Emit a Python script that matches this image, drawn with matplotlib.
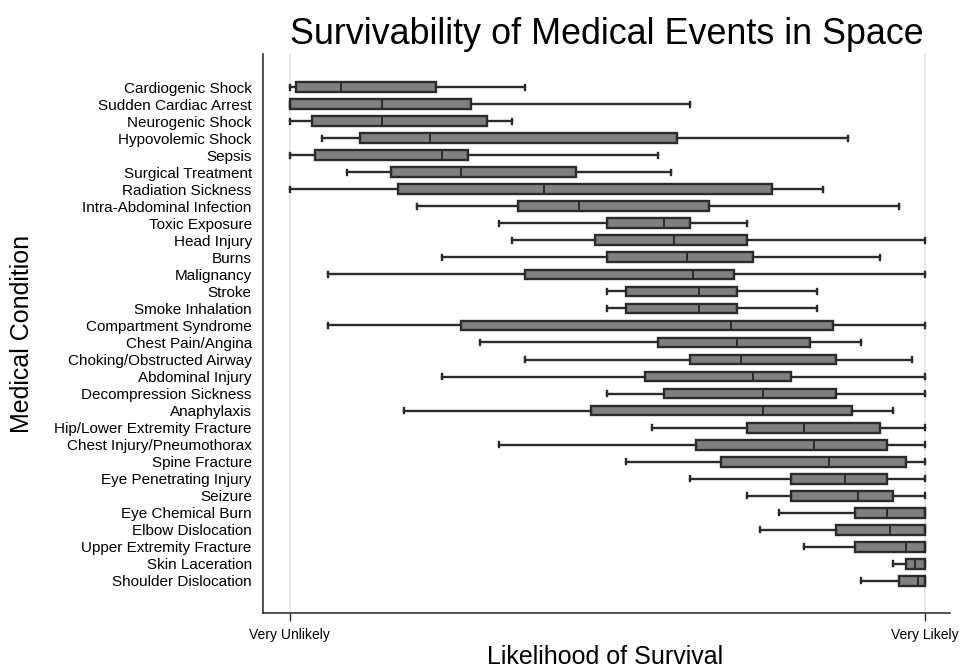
import matplotlib
matplotlib.use("Agg")
import matplotlib.pyplot as plt

conditions = [
    "Cardiogenic Shock", "Sudden Cardiac Arrest", "Neurogenic Shock", "Hypovolemic Shock",
    "Sepsis", "Surgical Treatment", "Radiation Sickness", "Intra-Abdominal Infection",
    "Toxic Exposure", "Head Injury", "Burns", "Malignancy", "Stroke", "Smoke Inhalation",
    "Compartment Syndrome", "Chest Pain/Angina", "Choking/Obstructed Airway",
    "Abdominal Injury", "Decompression Sickness", "Anaphylaxis",
    "Hip/Lower Extremity Fracture", "Chest Injury/Pneumothorax", "Spine Fracture",
    "Eye Penetrating Injury", "Seizure", "Eye Chemical Burn", "Elbow Dislocation",
    "Upper Extremity Fracture", "Skin Laceration", "Shoulder Dislocation",
]
whisker_low = [0.00, 0.00, 0.00, 0.05, 0.00, 0.09, 0.00, 0.20, 0.33, 0.35, 0.24, 0.06, 0.50, 0.50, 0.06,
               0.30, 0.37, 0.24, 0.50, 0.18, 0.57, 0.33, 0.53, 0.63, 0.72, 0.77, 0.74, 0.81, 0.95, 0.90]
q1 = [0.01, 0.00, 0.035, 0.11, 0.04, 0.16, 0.17, 0.36, 0.50, 0.48, 0.50, 0.37, 0.53, 0.53, 0.27,
      0.58, 0.63, 0.56, 0.59, 0.475, 0.72, 0.64, 0.68, 0.79, 0.79, 0.89, 0.86, 0.89, 0.97, 0.96]
median = [0.08, 0.145, 0.145, 0.22, 0.24, 0.27, 0.40, 0.455, 0.59, 0.605, 0.625, 0.635, 0.645, 0.645, 0.695,
          0.705, 0.71, 0.73, 0.745, 0.745, 0.81, 0.825, 0.85, 0.875, 0.895, 0.94, 0.945, 0.97, 0.985, 0.99]
q3 = [0.23, 0.285, 0.31, 0.61, 0.28, 0.45, 0.76, 0.66, 0.63, 0.72, 0.73, 0.70, 0.705, 0.705, 0.855,
      0.82, 0.86, 0.79, 0.86, 0.885, 0.93, 0.94, 0.97, 0.94, 0.95, 1.0, 1.0, 1.0, 1.0, 1.0]
whisker_high = [0.37, 0.63, 0.35, 0.88, 0.58, 0.60, 0.84, 0.96, 0.72, 1.0, 0.93, 1.0, 0.83, 0.83, 1.0,
                0.90, 0.98, 1.0, 1.0, 0.95, 1.0, 1.0, 1.0, 1.0, 1.0, 1.0, 1.0, 1.0, 1.0, 1.0]
x_tick_values = [0.0, 1.0]
x_tick_labels = ["Very Unlikely", "Very Likely"]

plt.rcParams['font.family'] = ['Liberation Sans', 'DejaVu Sans']

fig = plt.figure(figsize=(9.63, 6.68), dpi=100)
ax = fig.add_axes([0.273, 0.0823, 0.7135, 0.8367])

stats = []
for name, lo, a, m, b, hi in zip(conditions, whisker_low, q1, median, q3, whisker_high):
    stats.append(dict(label=name, whislo=lo, q1=a, med=m, q3=b, whishi=hi, fliers=[]))

edge = "#2b2b2b"
positions = list(range(len(conditions)))
ax.bxp(stats, positions=positions, orientation="horizontal", widths=0.58,
       patch_artist=True, showfliers=False, capwidths=0.32,
       boxprops=dict(facecolor="#808080", edgecolor=edge, linewidth=1.7),
       medianprops=dict(color=edge, linewidth=1.4),
       whiskerprops=dict(color=edge, linewidth=1.7),
       capprops=dict(color=edge, linewidth=1.7))

ax.set_ylim(len(conditions) - 1 + 1.9, -1.95)
ax.set_xlim(-0.0425, 1.04)
ax.set_yticks(positions)
ax.set_yticklabels(conditions, fontsize=11)
ax.tick_params(axis="y", length=0, pad=8)
ax.set_xticks(x_tick_values)
ax.set_xticklabels(x_tick_labels, fontsize=10)
ax.tick_params(axis="x", length=6, width=1, color="#333333", pad=5)

ax.xaxis.grid(True, color="#e4e4e4", linewidth=1.2)
ax.set_axisbelow(True)
for s in ["top", "right"]:
    ax.spines[s].set_visible(False)
for s in ["left", "bottom"]:
    ax.spines[s].set_color("#333333")
    ax.spines[s].set_linewidth(1.2)

ax.set_title("Survivability of Medical Events in Space", fontsize=25.8, pad=7)
ax.set_xlabel("Likelihood of Survival", fontsize=18)
ax.xaxis.label.set_va("center")
ax.xaxis.set_label_coords(0.498, -0.0787)
ax.set_ylabel("Medical Condition", fontsize=18)
ax.yaxis.label.set_va("center")
ax.yaxis.set_label_coords(-0.351, 0.5)

fig.savefig("out.png", dpi=100)
